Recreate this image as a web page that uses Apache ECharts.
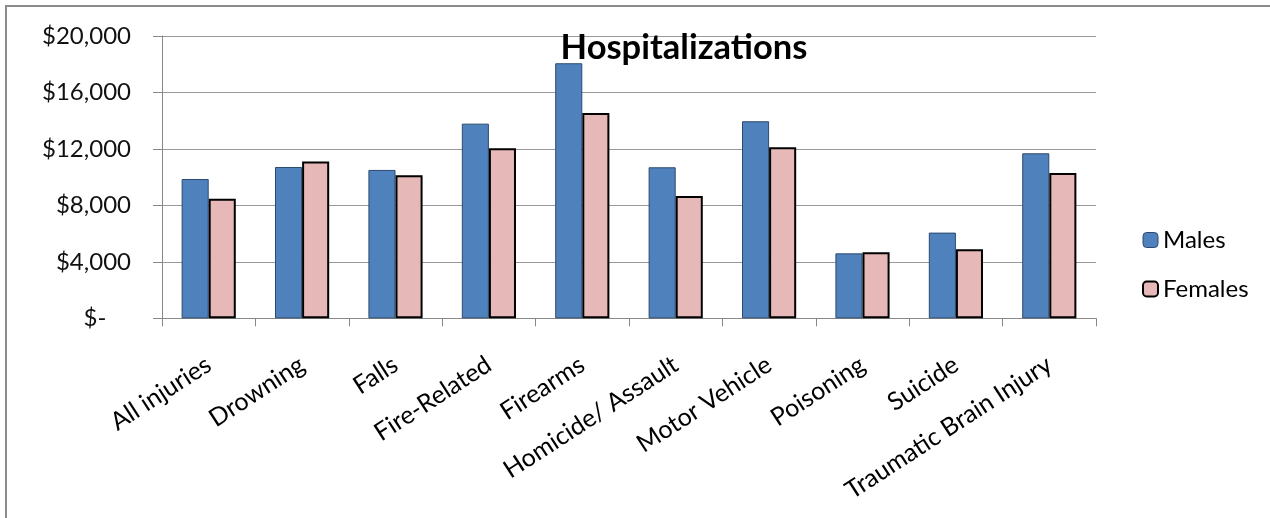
<!DOCTYPE html>
<html><head><meta charset="utf-8">
<script src="https://cdn.jsdelivr.net/npm/echarts@6/dist/echarts.min.js"></script>
<style>html,body{margin:0;padding:0;background:#fff}#c{width:1270px;height:518px}</style>
</head><body><div id="c"></div>
<script>
const categories = ['All injuries','Drowning','Falls','Fire-Related','Firearms','Homicide/ Assault','Motor Vehicle','Poisoning','Suicide','Traumatic Brain Injury'];
const males = [9870,10720,10510,13790,18070,10700,13960,4600,6070,11690];
const females = [8470,11100,10130,12040,14550,8670,12110,4680,4890,10290];
const yTicks = [0,4000,8000,12000,16000,20000];

const FONT = 'Lato';
const chart = echarts.init(document.getElementById('c'));
chart.setOption({
  animation:false,
  backgroundColor:'#fff',
  graphic:[{type:'rect',shape:{x:6,y:6,width:1300,height:600},style:{fill:'none',stroke:'#8c8c8c',lineWidth:2},silent:true}],
  title:{text:'Hospitalizations',left:679,textAlign:'center',top:25,
    textStyle:{fontFamily:FONT,fontSize:34.5,fontWeight:'bold',color:'#000'}},
  legend:{orient:'vertical',left:1137,top:223,itemWidth:15,itemHeight:15,itemGap:25,
    textStyle:{fontFamily:FONT,fontSize:24,lineHeight:24,color:'#000'},
    data:[{name:'Males',itemStyle:{color:'#4F81BD',borderColor:'#2c4a6e',borderWidth:1}},
          {name:'Females',itemStyle:{color:'#E6B9B8',borderColor:'#000',borderWidth:2}}]},
  grid:{left:162,right:1270-1096,top:36,bottom:518-318.3,containLabel:false},
  xAxis:{type:'category',data:categories,
    axisLine:{lineStyle:{color:'#888',width:1}},
    axisTick:{show:true,length:8,lineStyle:{color:'#888'}},
    axisLabel:{rotate:33,interval:0,margin:44,fontFamily:FONT,fontSize:25,color:'#000'}},
  yAxis:{type:'value',min:0,max:20000,interval:4000,
    axisLine:{show:true,lineStyle:{color:'#888'}},
    axisTick:{show:true,length:9,lineStyle:{color:'#888'}},
    splitLine:{lineStyle:{color:'#999',width:1}},
    axisLabel:{margin:31,fontFamily:FONT,fontSize:24,color:'#111',
      formatter:v=> v===0 ? '$-    ' : '$'+v.toLocaleString('en-US')}},
  series:[
    {name:'Males',type:'bar',data:males,barGap:'0%',barCategoryGap:'42%',
      itemStyle:{color:'#4F81BD',borderColor:'#2c4a6e',borderWidth:1}},
    {name:'Females',type:'bar',data:females,
      itemStyle:{color:'#E6B9B8',borderColor:'#000',borderWidth:2}}
  ]
});
</script></body></html>
